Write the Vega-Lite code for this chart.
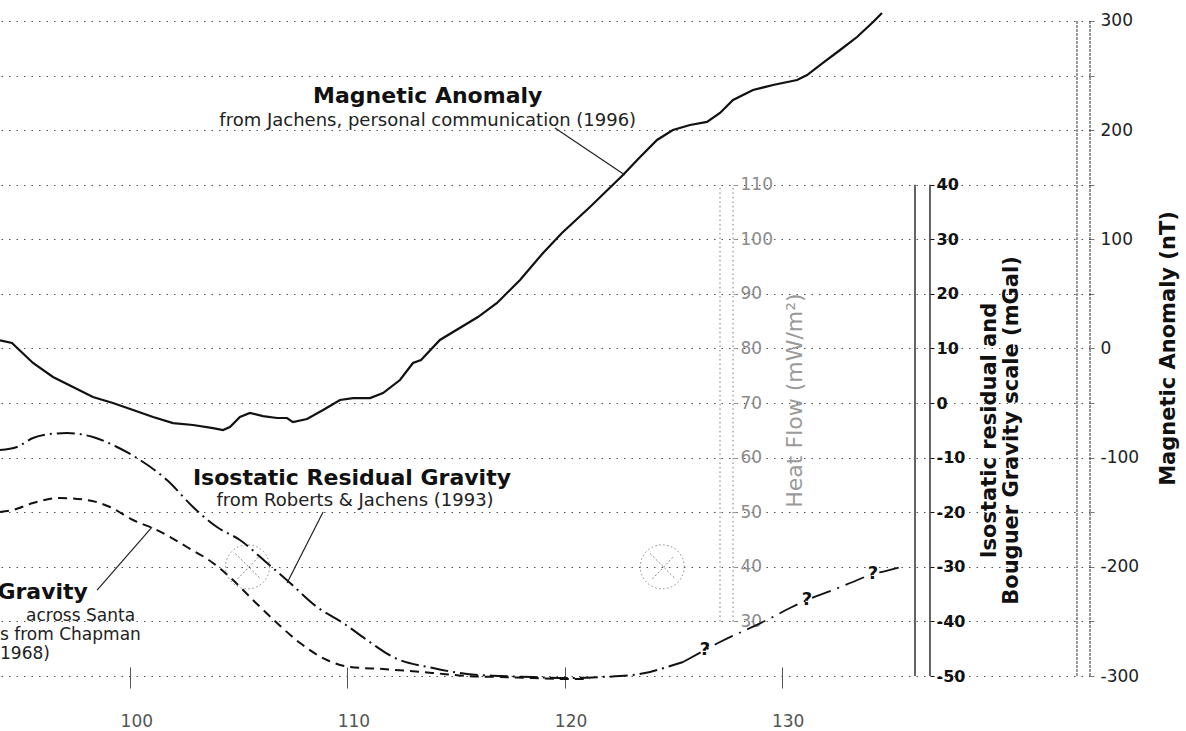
{
  "$schema": "https://vega.github.io/schema/vega-lite/v6.json",
  "width": 1090,
  "height": 676,
  "autosize": {"type": "none"},
  "padding": {"left": 0, "top": 0, "right": 96, "bottom": 55},
  "background": "white",
  "config": {
    "font": "DejaVu Sans",
    "view": {"stroke": null},
    "axis": {"grid": false, "domain": false, "labelFont": "DejaVu Sans", "titleFont": "DejaVu Sans"},
    "axisX": {"offset": -9, "tickSize": 21, "tickColor": "#555", "labelPadding": 25, "labelOffset": 6, "labelFontSize": 17, "labelColor": "#555", "grid": false, "domain": false}
  },
  "datasets": {
    "magnetic": [
      {"x": 94.0, "nT": 7.5}, {"x": 94.55, "nT": 5.0}, {"x": 95.52, "nT": -13.3}, {"x": 96.44, "nT": -26.1},
      {"x": 97.36, "nT": -35.3}, {"x": 98.28, "nT": -44.5}, {"x": 99.2, "nT": -50.0}, {"x": 100.13, "nT": -56.4},
      {"x": 101.05, "nT": -62.8}, {"x": 101.97, "nT": -68.3}, {"x": 102.89, "nT": -70.1}, {"x": 103.81, "nT": -72.9},
      {"x": 104.27, "nT": -74.7}, {"x": 104.59, "nT": -71.9}, {"x": 105.05, "nT": -62.8}, {"x": 105.51, "nT": -59.1},
      {"x": 106.11, "nT": -61.9}, {"x": 106.76, "nT": -63.7}, {"x": 107.22, "nT": -63.7}, {"x": 107.49, "nT": -67.4},
      {"x": 108.14, "nT": -64.6}, {"x": 108.88, "nT": -56.4}, {"x": 109.66, "nT": -47.2}, {"x": 110.26, "nT": -45.4},
      {"x": 111.04, "nT": -45.4}, {"x": 111.64, "nT": -40.8}, {"x": 112.42, "nT": -28.9}, {"x": 113.02, "nT": -13.3},
      {"x": 113.39, "nT": -10.6}, {"x": 114.26, "nT": 7.8}, {"x": 116.01, "nT": 28.8}, {"x": 116.89, "nT": 41.7},
      {"x": 117.95, "nT": 62.7}, {"x": 119.01, "nT": 87.5}, {"x": 119.88, "nT": 105.8}, {"x": 121.17, "nT": 129.6},
      {"x": 122.69, "nT": 158.9}, {"x": 123.48, "nT": 175.4}, {"x": 124.26, "nT": 191.0}, {"x": 124.99, "nT": 200.1},
      {"x": 125.78, "nT": 204.7}, {"x": 126.56, "nT": 207.5}, {"x": 127.16, "nT": 215.7}, {"x": 127.76, "nT": 227.6},
      {"x": 128.68, "nT": 236.8}, {"x": 129.6, "nT": 241.3}, {"x": 130.71, "nT": 245.9}, {"x": 131.17, "nT": 250.5},
      {"x": 131.9, "nT": 261.5}, {"x": 132.69, "nT": 273.4}, {"x": 133.47, "nT": 285.3}, {"x": 134.21, "nT": 299.1},
      {"x": 134.62, "nT": 307.3}
    ],
    "isostatic": [
      {"x": 94.0, "mgal": -8.6}, {"x": 94.78, "mgal": -8.05}, {"x": 95.52, "mgal": -6.4}, {"x": 96.3, "mgal": -5.67},
      {"x": 97.09, "mgal": -5.49}, {"x": 98.28, "mgal": -6.22}, {"x": 99.39, "mgal": -8.05}, {"x": 100.45, "mgal": -10.43},
      {"x": 101.69, "mgal": -14.1}, {"x": 102.89, "mgal": -19.04}, {"x": 103.99, "mgal": -22.71}, {"x": 105.05, "mgal": -25.09},
      {"x": 106.3, "mgal": -29.3}, {"x": 107.36, "mgal": -32.97}, {"x": 108.6, "mgal": -37.36}, {"x": 109.8, "mgal": -40.29},
      {"x": 110.9, "mgal": -43.41}, {"x": 112.1, "mgal": -46.52}, {"x": 113.94, "mgal": -48.54}, {"x": 115.51, "mgal": -49.64},
      {"x": 117.03, "mgal": -50.0}, {"x": 118.55, "mgal": -50.19}, {"x": 120.11, "mgal": -50.37}, {"x": 121.63, "mgal": -50.19},
      {"x": 123.15, "mgal": -49.82}, {"x": 123.94, "mgal": -49.27}, {"x": 124.72, "mgal": -48.35}, {"x": 125.46, "mgal": -47.44}
    ],
    "isostaticQuery": [
      {"x": 125.46, "mgal": -47.44}, {"x": 126.47, "mgal": -45.24}, {"x": 127.16, "mgal": -43.77}, {"x": 128.54, "mgal": -41.21},
      {"x": 129.32, "mgal": -39.74}, {"x": 130.38, "mgal": -37.55}, {"x": 131.17, "mgal": -36.08}, {"x": 132.36, "mgal": -34.25},
      {"x": 133.15, "mgal": -32.97}, {"x": 134.21, "mgal": -31.32}, {"x": 134.99, "mgal": -30.58}, {"x": 135.68, "mgal": -29.85}
    ],
    "bouguer": [
      {"x": 94.0, "mgal": -19.96}, {"x": 94.6, "mgal": -19.59}, {"x": 95.52, "mgal": -18.31}, {"x": 96.76, "mgal": -17.39},
      {"x": 98.01, "mgal": -17.76}, {"x": 99.07, "mgal": -19.04}, {"x": 100.13, "mgal": -21.42}, {"x": 101.23, "mgal": -23.26},
      {"x": 102.61, "mgal": -26.37}, {"x": 103.81, "mgal": -29.3}, {"x": 104.73, "mgal": -32.42}, {"x": 105.65, "mgal": -36.08},
      {"x": 106.76, "mgal": -40.29}, {"x": 107.82, "mgal": -43.96}, {"x": 109.06, "mgal": -47.07}, {"x": 110.12, "mgal": -48.35},
      {"x": 111.64, "mgal": -48.72}, {"x": 113.94, "mgal": -49.45}, {"x": 115.51, "mgal": -50.0}, {"x": 117.03, "mgal": -50.19},
      {"x": 118.55, "mgal": -50.37}, {"x": 120.11, "mgal": -50.55}, {"x": 121.17, "mgal": -50.55}
    ],
    "queryMarks": [
      {"x": 126.47, "mgal": -45.24, "label": "?"}, {"x": 131.17, "mgal": -36.08, "label": "?"}, {"x": 134.21, "mgal": -31.32, "label": "?"}
    ],
    "heatSites": [{"x": 105.4, "hf": 40}, {"x": 124.5, "hf": 40}],
    "hfFrame": [{"x": 127.16, "hf": 30, "hf2": 110}, {"x": 127.76, "hf": 30, "hf2": 110}],
    "mgalFrame": [{"x": 136.14, "mgal": -50, "mgal2": 40}, {"x": 136.83, "mgal": -50, "mgal2": 40}],
    "ntFrame": [{"x": 143.6, "nT": -300, "nT2": 300}, {"x": 144.2, "nT": -300, "nT2": 300}],
    "magLeader": [{"x": 119.56, "x2": 122.78, "nT": 201.95, "nT2": 158.9}],
    "magTitle": [{"x": 113.7, "nT": 231.3, "label": "Magnetic Anomaly"}],
    "magSub": [{"x": 113.7, "nT": 208.4, "label": "from Jachens, personal communication (1996)"}],
    "gravLeaders": [
      {"x": 108.88, "x2": 107.22, "mgal": -19.96, "mgal2": -32.97},
      {"x": 98.47, "x2": 101.0, "mgal": -34.25, "mgal2": -22.71}
    ],
    "isoTitle": [{"x": 110.21, "mgal": -13.73, "label": "Isostatic Residual Gravity"}],
    "isoSub": [{"x": 110.35, "mgal": -17.94, "label": "from Roberts & Jachens (1993)"}],
    "bougTitle": [{"x": 98.05, "mgal": -34.6, "label": "Gravity"}],
    "bougSubRight": [{"x": 100.22, "mgal": -39.0, "label": "across Santa"}],
    "bougSubLeft": [{"x": 94.0, "mgal": -42.5, "label": "s from Chapman"}, {"x": 94.0, "mgal": -45.9, "label": "1968)"}]
  },
  "layer": [
    {
      "data": {"name": "magnetic"},
      "mark": {"type": "line", "color": "#111", "strokeWidth": 2.2},
      "encoding": {
        "x": {"field": "x", "type": "quantitative", "scale": {"domain": [94, 144.2], "nice": false, "zero": false}, "axis": {"values": [100, 110, 120, 130], "title": null}},
        "y": {"field": "nT", "type": "quantitative", "scale": {"domain": [-300, 319.2], "nice": false, "zero": false},
          "axis": {"orient": "right", "offset": 0, "values": [-300, -250, -200, -150, -100, -50, 0, 50, 100, 150, 200, 250, 300],
            "labelExpr": "datum.value % 100 == 0 ? '' + datum.value : ''", "grid": true, "gridDash": [1.5, 6], "gridColor": "#333", "gridOpacity": 0.85, "gridWidth": 1,
            "ticks": true, "tickSize": 4, "tickColor": "#777", "labelPadding": 6, "labelFontSize": 17, "labelColor": "#222",
            "title": "Magnetic Anomaly (nT)", "titleAngle": 270, "titleFontSize": 21, "titleFontWeight": "bold", "titleColor": "#111",
            "titleX": 78, "titleY": 348, "titleAlign": "center", "titleBaseline": "middle", "domain": false}}
      }
    },
    {
      "data": {"name": "ntFrame"},
      "mark": {"type": "rule", "color": "#333", "strokeWidth": 1, "strokeDash": [3, 1]},
      "encoding": {
        "x": {"field": "x", "type": "quantitative", "scale": {"domain": [94, 144.2], "nice": false, "zero": false}, "axis": {"values": [100, 110, 120, 130], "title": null}},
        "y": {"field": "nT", "type": "quantitative", "scale": {"domain": [-300, 319.2], "nice": false, "zero": false}, "axis": null},
        "y2": {"field": "nT2"}
      }
    },
    {
      "data": {"name": "magLeader"},
      "mark": {"type": "rule", "color": "#222", "strokeWidth": 1.2},
      "encoding": {
        "x": {"field": "x", "type": "quantitative", "scale": {"domain": [94, 144.2], "nice": false, "zero": false}, "axis": {"values": [100, 110, 120, 130], "title": null}},
        "x2": {"field": "x2"},
        "y": {"field": "nT", "type": "quantitative", "scale": {"domain": [-300, 319.2], "nice": false, "zero": false}, "axis": null},
        "y2": {"field": "nT2"}
      }
    },
    {
      "data": {"name": "magTitle"},
      "mark": {"type": "text", "fontWeight": "bold", "fontSize": 22, "color": "#111", "align": "center", "baseline": "middle"},
      "encoding": {
        "x": {"field": "x", "type": "quantitative", "scale": {"domain": [94, 144.2], "nice": false, "zero": false}, "axis": {"values": [100, 110, 120, 130], "title": null}},
        "y": {"field": "nT", "type": "quantitative", "scale": {"domain": [-300, 319.2], "nice": false, "zero": false}, "axis": null},
        "text": {"field": "label"}
      }
    },
    {
      "data": {"name": "magSub"},
      "mark": {"type": "text", "fontSize": 18, "color": "#222", "align": "center", "baseline": "middle"},
      "encoding": {
        "x": {"field": "x", "type": "quantitative", "scale": {"domain": [94, 144.2], "nice": false, "zero": false}, "axis": {"values": [100, 110, 120, 130], "title": null}},
        "y": {"field": "nT", "type": "quantitative", "scale": {"domain": [-300, 319.2], "nice": false, "zero": false}, "axis": null},
        "text": {"field": "label"}
      }
    },
    {
      "data": {"name": "isostatic"},
      "mark": {"type": "line", "color": "#111", "strokeWidth": 2, "strokeDash": [18, 5, 2, 5], "interpolate": "monotone"},
      "encoding": {
        "x": {"field": "x", "type": "quantitative", "scale": {"domain": [94, 144.2], "nice": false, "zero": false}, "axis": {"values": [100, 110, 120, 130], "title": null}},
        "y": {"field": "mgal", "type": "quantitative", "scale": {"domain": [-50, 73.84], "nice": false, "zero": false},
          "axis": {"orient": "right", "offset": -160, "values": [-50, -40, -30, -20, -10, 0, 10, 20, 30, 40], "labelExpr": "'' + datum.value",
            "grid": false, "ticks": true, "tickSize": 4, "tickColor": "#111", "labelPadding": 2, "labelFontSize": 16, "labelFontWeight": "bold", "labelColor": "#111",
            "title": ["Isostatic residual and", "Bouguer Gravity scale (mGal)"], "titleAngle": 270, "titleFontSize": 21, "titleFontWeight": "bold",
            "titleColor": "#111", "titleLineHeight": 22, "titleX": 59, "titleY": 430, "titleAlign": "center", "titleBaseline": "middle", "domain": false}}
      }
    },
    {
      "data": {"name": "isostaticQuery"},
      "mark": {"type": "line", "color": "#111", "strokeWidth": 1.8, "strokeDash": [20, 7, 2, 7], "interpolate": "monotone"},
      "encoding": {
        "x": {"field": "x", "type": "quantitative", "scale": {"domain": [94, 144.2], "nice": false, "zero": false}, "axis": {"values": [100, 110, 120, 130], "title": null}},
        "y": {"field": "mgal", "type": "quantitative", "scale": {"domain": [-50, 73.84], "nice": false, "zero": false}, "axis": null}
      }
    },
    {
      "data": {"name": "bouguer"},
      "mark": {"type": "line", "color": "#111", "strokeWidth": 2, "strokeDash": [9, 6], "interpolate": "monotone"},
      "encoding": {
        "x": {"field": "x", "type": "quantitative", "scale": {"domain": [94, 144.2], "nice": false, "zero": false}, "axis": {"values": [100, 110, 120, 130], "title": null}},
        "y": {"field": "mgal", "type": "quantitative", "scale": {"domain": [-50, 73.84], "nice": false, "zero": false}, "axis": null}
      }
    },
    {
      "data": {"name": "queryMarks"},
      "mark": {"type": "text", "fontSize": 18, "fontWeight": "bold", "color": "#111", "align": "center", "baseline": "middle"},
      "encoding": {
        "x": {"field": "x", "type": "quantitative", "scale": {"domain": [94, 144.2], "nice": false, "zero": false}, "axis": {"values": [100, 110, 120, 130], "title": null}},
        "y": {"field": "mgal", "type": "quantitative", "scale": {"domain": [-50, 73.84], "nice": false, "zero": false}, "axis": null},
        "text": {"field": "label"}
      }
    },
    {
      "data": {"name": "mgalFrame"},
      "mark": {"type": "rule", "color": "#111", "strokeWidth": 1.3},
      "encoding": {
        "x": {"field": "x", "type": "quantitative", "scale": {"domain": [94, 144.2], "nice": false, "zero": false}, "axis": {"values": [100, 110, 120, 130], "title": null}},
        "y": {"field": "mgal", "type": "quantitative", "scale": {"domain": [-50, 73.84], "nice": false, "zero": false}, "axis": null},
        "y2": {"field": "mgal2"}
      }
    },
    {
      "data": {"name": "gravLeaders"},
      "mark": {"type": "rule", "color": "#222", "strokeWidth": 1.2},
      "encoding": {
        "x": {"field": "x", "type": "quantitative", "scale": {"domain": [94, 144.2], "nice": false, "zero": false}, "axis": {"values": [100, 110, 120, 130], "title": null}},
        "x2": {"field": "x2"},
        "y": {"field": "mgal", "type": "quantitative", "scale": {"domain": [-50, 73.84], "nice": false, "zero": false}, "axis": null},
        "y2": {"field": "mgal2"}
      }
    },
    {
      "data": {"name": "isoTitle"},
      "mark": {"type": "text", "fontWeight": "bold", "fontSize": 22, "color": "#111", "align": "center", "baseline": "middle"},
      "encoding": {
        "x": {"field": "x", "type": "quantitative", "scale": {"domain": [94, 144.2], "nice": false, "zero": false}, "axis": {"values": [100, 110, 120, 130], "title": null}},
        "y": {"field": "mgal", "type": "quantitative", "scale": {"domain": [-50, 73.84], "nice": false, "zero": false}, "axis": null},
        "text": {"field": "label"}
      }
    },
    {
      "data": {"name": "isoSub"},
      "mark": {"type": "text", "fontSize": 18, "color": "#222", "align": "center", "baseline": "middle"},
      "encoding": {
        "x": {"field": "x", "type": "quantitative", "scale": {"domain": [94, 144.2], "nice": false, "zero": false}, "axis": {"values": [100, 110, 120, 130], "title": null}},
        "y": {"field": "mgal", "type": "quantitative", "scale": {"domain": [-50, 73.84], "nice": false, "zero": false}, "axis": null},
        "text": {"field": "label"}
      }
    },
    {
      "data": {"name": "bougTitle"},
      "mark": {"type": "text", "fontWeight": "bold", "fontSize": 22, "color": "#111", "align": "right", "baseline": "middle"},
      "encoding": {
        "x": {"field": "x", "type": "quantitative", "scale": {"domain": [94, 144.2], "nice": false, "zero": false}, "axis": {"values": [100, 110, 120, 130], "title": null}},
        "y": {"field": "mgal", "type": "quantitative", "scale": {"domain": [-50, 73.84], "nice": false, "zero": false}, "axis": null},
        "text": {"field": "label"}
      }
    },
    {
      "data": {"name": "bougSubRight"},
      "mark": {"type": "text", "fontSize": 17, "color": "#222", "align": "right", "baseline": "middle"},
      "encoding": {
        "x": {"field": "x", "type": "quantitative", "scale": {"domain": [94, 144.2], "nice": false, "zero": false}, "axis": {"values": [100, 110, 120, 130], "title": null}},
        "y": {"field": "mgal", "type": "quantitative", "scale": {"domain": [-50, 73.84], "nice": false, "zero": false}, "axis": null},
        "text": {"field": "label"}
      }
    },
    {
      "data": {"name": "bougSubLeft"},
      "mark": {"type": "text", "fontSize": 17, "color": "#222", "align": "left", "baseline": "middle"},
      "encoding": {
        "x": {"field": "x", "type": "quantitative", "scale": {"domain": [94, 144.2], "nice": false, "zero": false}, "axis": {"values": [100, 110, 120, 130], "title": null}},
        "y": {"field": "mgal", "type": "quantitative", "scale": {"domain": [-50, 73.84], "nice": false, "zero": false}, "axis": null},
        "text": {"field": "label"}
      }
    },
    {
      "data": {"name": "heatSites"},
      "mark": {"type": "point", "shape": "circle", "filled": false, "size": 1936, "color": "#555", "strokeWidth": 1, "strokeDash": [1.5, 2.5]},
      "encoding": {
        "x": {"field": "x", "type": "quantitative", "scale": {"domain": [94, 144.2], "nice": false, "zero": false}, "axis": {"values": [100, 110, 120, 130], "title": null}},
        "y": {"field": "hf", "type": "quantitative", "scale": {"domain": [20, 143.84], "nice": false, "zero": false},
          "axis": {"orient": "right", "offset": -357, "values": [30, 40, 50, 60, 70, 80, 90, 100, 110], "labelExpr": "'' + datum.value",
            "grid": false, "ticks": true, "tickSize": 4, "tickColor": "#999", "labelPadding": 3, "labelFontSize": 17, "labelColor": "#8a8a8a",
            "title": "Heat Flow (mW/m²)", "titleAngle": 270, "titleFontSize": 22, "titleFontWeight": "normal", "titleColor": "#9a9a9a",
            "titleX": 61, "titleY": 400, "titleAlign": "center", "titleBaseline": "middle", "domain": false}}
      }
    },
    {
      "data": {"name": "heatSites"},
      "mark": {"type": "point", "shape": "M-0.55,-0.6L0.6,0.55M-0.45,0.55L0.5,-0.45", "filled": false, "size": 1936, "color": "#555", "strokeWidth": 1, "strokeDash": [2, 2]},
      "encoding": {
        "x": {"field": "x", "type": "quantitative", "scale": {"domain": [94, 144.2], "nice": false, "zero": false}, "axis": {"values": [100, 110, 120, 130], "title": null}},
        "y": {"field": "hf", "type": "quantitative", "scale": {"domain": [20, 143.84], "nice": false, "zero": false}, "axis": null}
      }
    },
    {
      "data": {"name": "hfFrame"},
      "mark": {"type": "rule", "color": "#777", "strokeWidth": 1, "strokeDash": [1.5, 3]},
      "encoding": {
        "x": {"field": "x", "type": "quantitative", "scale": {"domain": [94, 144.2], "nice": false, "zero": false}, "axis": {"values": [100, 110, 120, 130], "title": null}},
        "y": {"field": "hf", "type": "quantitative", "scale": {"domain": [20, 143.84], "nice": false, "zero": false}, "axis": null},
        "y2": {"field": "hf2"}
      }
    }
  ],
  "resolve": {"scale": {"y": "independent"}}
}
